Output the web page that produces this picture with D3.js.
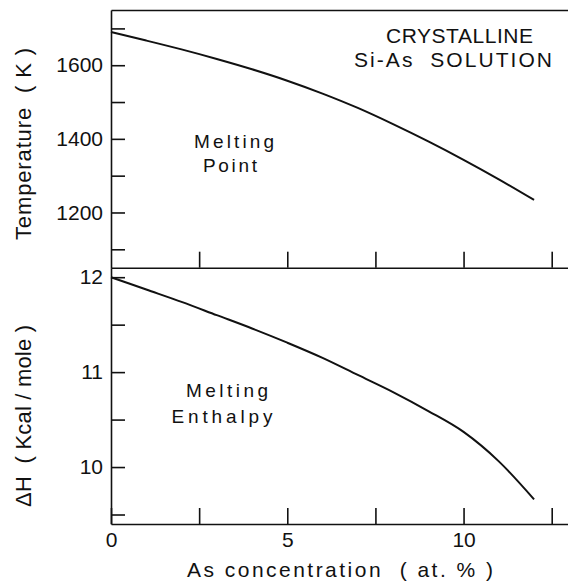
<!DOCTYPE html>
<html>
<head>
<meta charset="utf-8">
<script src="https://cdn.jsdelivr.net/npm/d3@7"></script>
<style>
  body { margin: 0; background: #fff; }
  svg { display: block; font-family: "Liberation Sans", Arial, sans-serif; }
  text { fill: #111; white-space: pre; }
  .axis path, .axis line { stroke: #111; stroke-width: 1.6; }
  .axis text { font-size: 21px; fill: #111; font-family: "Liberation Sans", Arial, sans-serif; }
</style>
</head>
<body>
<div id="chart"></div>
<script>
// As concentration (at.%)
var concentration = [0, 1, 2, 3, 4, 5, 6, 7, 8, 9, 10, 11, 12];
// melting point (K)
var meltingPoint = [1690, 1667, 1643, 1617, 1589, 1558, 1523, 1484, 1440, 1393, 1343, 1290, 1234];
// melting enthalpy (Kcal/mole)
var meltingEnthalpy = [12.0, 11.87, 11.74, 11.60, 11.46, 11.31, 11.15, 10.97, 10.79, 10.59, 10.37, 10.06, 9.66];

var xTicks = [0, 2.5, 5, 7.5, 10, 12.5];
var xTickLabels = [0, 5, 10];
var tempTicks = [1100, 1200, 1300, 1400, 1500, 1600, 1700];
var tempTickLabels = [1200, 1400, 1600];
var enthTicks = [9.5, 10, 10.5, 11, 11.5, 12];
var enthTickLabels = [10, 11, 12];

var width = 568, height = 583;
var plotLeft = 111, plotSplit = 267.7, plotTop = 10, plotBottom = 524;

var svg = d3.select('#chart').append('svg')
    .attr('width', width)
    .attr('height', height);

var x = d3.scaleLinear().domain([0, 13]).range([plotLeft, plotLeft + 13 * 35.256]);
var yTemp = d3.scaleLinear().domain([1050, 1750]).range([plotSplit, plotTop]);
var yEnth = d3.scaleLinear().domain([9.4, 12.1]).range([plotBottom, plotSplit]);

// top frame line
svg.append('g')
    .attr('class', 'axis')
    .attr('transform', 'translate(0,' + plotTop + ')')
    .call(d3.axisTop(x).tickValues([]).tickSizeOuter(0));

// shared divider (ticks point up into the upper panel)
svg.append('g')
    .attr('class', 'axis')
    .attr('transform', 'translate(0,' + plotSplit + ')')
    .call(d3.axisBottom(x).tickValues(xTicks.slice(1)).tickSizeInner(-16).tickSizeOuter(0).tickFormat(''));

svg.append('g')
    .attr('class', 'axis')
    .attr('transform', 'translate(0,' + plotBottom + ')')
    .call(d3.axisBottom(x).tickValues(xTicks).tickSizeInner(-16).tickSizeOuter(0).tickPadding(8)
        .tickFormat(function(d) { return xTickLabels.indexOf(d) >= 0 ? d : ''; }));

svg.append('g')
    .attr('class', 'axis')
    .attr('transform', 'translate(' + plotLeft + ',0)')
    .call(d3.axisLeft(yTemp).tickValues(tempTicks).tickSizeInner(-14).tickSizeOuter(0).tickPadding(8)
        .tickFormat(function(d) { return tempTickLabels.indexOf(d) >= 0 ? d : ''; }));

svg.append('g')
    .attr('class', 'axis')
    .attr('transform', 'translate(' + plotLeft + ',0)')
    .call(d3.axisLeft(yEnth).tickValues(enthTicks).tickSizeInner(-14).tickSizeOuter(0).tickPadding(8)
        .tickFormat(function(d) { return enthTickLabels.indexOf(d) >= 0 ? d : ''; }));

// curves
var tempLine = d3.line()
    .x(function(d, i) { return x(concentration[i]); })
    .y(function(d) { return yTemp(d); })
    .curve(d3.curveMonotoneX);

var enthLine = d3.line()
    .x(function(d, i) { return x(concentration[i]); })
    .y(function(d) { return yEnth(d); })
    .curve(d3.curveMonotoneX);

svg.append('path')
    .attr('d', tempLine(meltingPoint))
    .attr('fill', 'none')
    .attr('stroke', '#111')
    .attr('stroke-width', 2);

svg.append('path')
    .attr('d', enthLine(meltingEnthalpy))
    .attr('fill', 'none')
    .attr('stroke', '#111')
    .attr('stroke-width', 2);

// labels
function label(txt, xPos, yPos, size, len, rotate) {
    var t = svg.append('text')
        .attr('font-size', size)
        .attr('text-anchor', 'middle')
        .attr('textLength', len)
        .attr('lengthAdjust', 'spacing')
        .text(txt);
    if (rotate) {
        t.attr('transform', 'translate(' + xPos + ',' + yPos + ') rotate(-90)');
    } else {
        t.attr('x', xPos).attr('y', yPos);
    }
    return t;
}

label('CRYSTALLINE', 459.5, 43.3, 21, 147);
label('Si-As  SOLUTION', 453, 66.7, 21, 198);
label('Melting', 234, 148.3, 19, 80);
label('Point', 230, 171.7, 19, 54);
label('Melting', 227, 397.3, 19, 82);
label('Enthalpy', 222, 423.3, 19, 101);
label('Temperature  ( K )', 31, 144, 22, 192, true);
label('\u0394H  ( Kcal / mole )', 31, 416, 22, 182, true);
label('As concentration  ( at. % )', 340, 576.7, 21, 306);
</script>
</body>
</html>
